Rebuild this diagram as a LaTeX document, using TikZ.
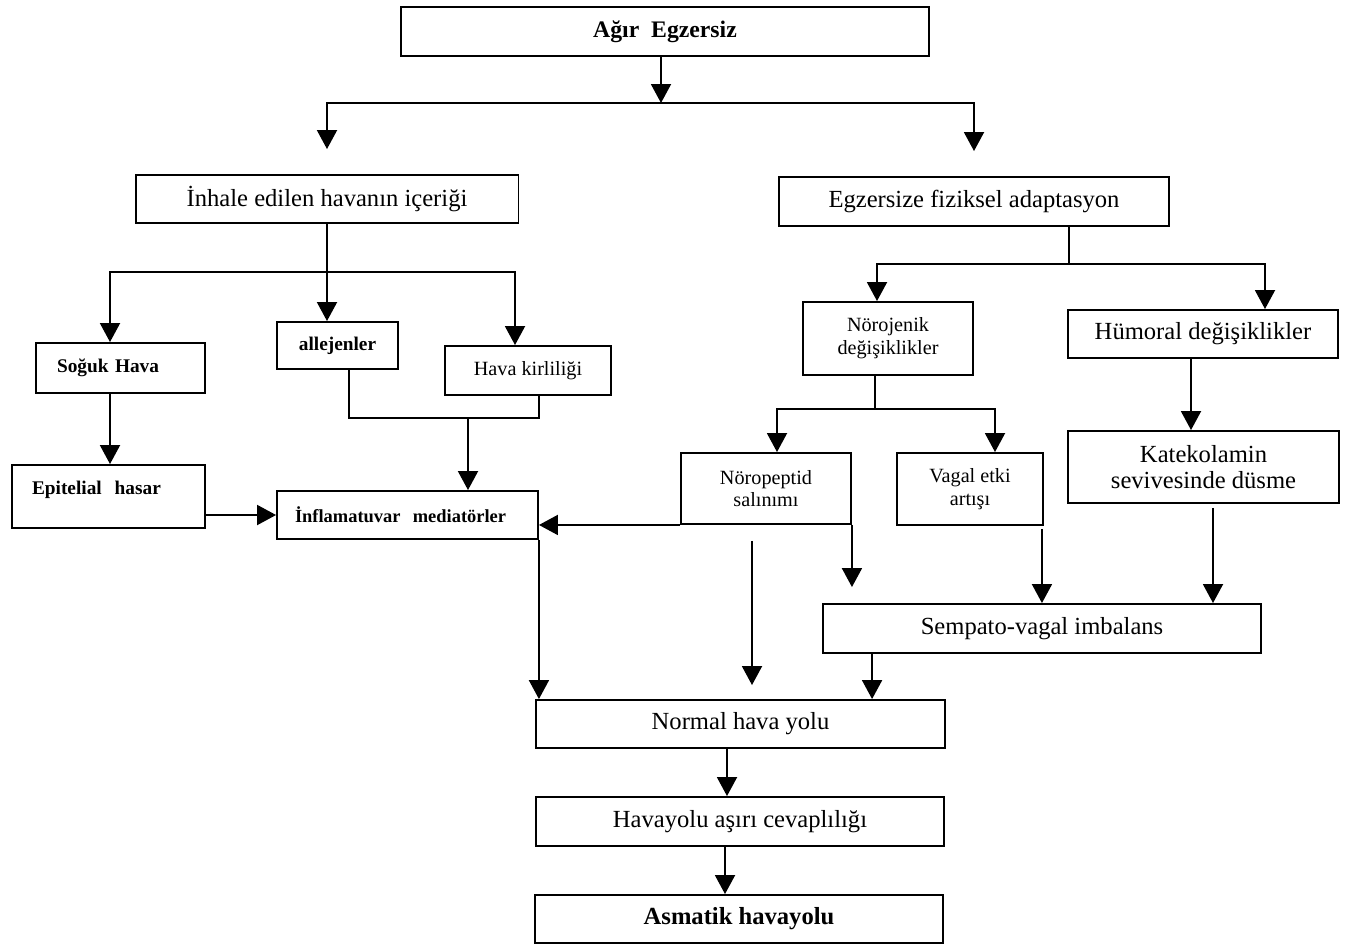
\documentclass[tikz,border=0pt]{standalone}
\usepackage{fontspec}
\setmainfont{Liberation Serif}
\usetikzlibrary{arrows.meta}

\begin{document}
\begin{tikzpicture}[
		x=0.02cm, y=-0.02cm, line width=1.1pt,
		arr/.style = {-{Triangle[length=0.38cm, width=0.4cm]}},
		blk/.style args = {#1/#2}{%
		draw, fill=white, inner sep=0pt, align=center,
		minimum width=#1, minimum height=#2},
		big/.style  = {font=\fontsize{14}{14.5}\selectfont},
		bigb/.style = {font=\bfseries\fontsize{14}{14.5}\selectfont},
		sml/.style  = {font=\fontsize{11.5}{13}\selectfont},
		smlb/.style = {font=\bfseries\fontsize{11}{13}\selectfont}
                    ]
		\useasboundingbox (0,0) rectangle (1348,944);

		\node(agir) [blk=10.56cm/0.98cm, font=\bfseries\fontsize{13.5}{15}\selectfont] at (665,31.5) {Ağır~~Egzersiz};
		\node(inhale) [blk=7.66cm/0.96cm, big] at (327,199) {İnhale edilen havanın içeriği};
		\node(egz) [blk=7.8cm/0.98cm, big] at (974,201.5) {Egzersize fiziksel adaptasyon};
		\node(soguk) [blk=3.38cm/1cm, smlb, align=left, text width=2.54cm, inner xsep=0.42cm] at (120.5,368) {Soğuk Hava};
		\node(allej) [blk=2.42cm/0.94cm, smlb] at (337.5,345.5) {allejenler};
		\node(kirli) [blk=3.32cm/0.98cm, sml] at (528,370.5) {Hava kirliliği};
		\node(epit) [blk=3.86cm/1.26cm, smlb, align=left, text width=3.06cm, inner xsep=0.4cm,
			text height=0.58cm, text depth=0.68cm] at (108.5,496.5) {Epitelial~~hasar};
		\node(inflam) [blk=5.22cm/0.96cm, smlb, font=\bfseries\fontsize{10.5}{13}\selectfont,
			align=left, text width=4.5cm, inner xsep=0.36cm] at (407.5,515) {\mbox{İnflamatuvar~~mediatörler}};
		\node(noroj) [blk=3.4cm/1.46cm, sml] at (888,338.5) {Nörojenik\\değişiklikler};
		\node(humor) [blk=5.4cm/0.96cm, big] at (1203,334) {Hümoral değişiklikler};
		\node(noropep) [blk=3.4cm/1.42cm, sml] at (766,488.5) {Nöropeptid\\salınımı};
		\node(vagal) [blk=2.92cm/1.44cm, sml] at (970,489) {Vagal etki\\artışı};
		\node(katek) [blk=5.42cm/1.44cm, big] at (1203.5,467) {Katekolamin\\sevivesinde düsme};
		\node(sempato) [blk=8.76cm/0.98cm, big] at (1042,628.5) {Sempato-vagal imbalans};
		\node(normal) [blk=8.18cm/0.96cm, big] at (740.5,724) {Normal hava yolu};
		\node(havayolu) [blk=8.16cm/0.98cm, big] at (740,821.5) {Havayolu aşırı cevaplılığı};
		\node(asmatik) [blk=8.16cm/0.96cm, bigb] at (739,919) {Asmatik havayolu};

		% junctions
		\coordinate (top) at (661,103);
		\coordinate (inh) at (327,272);
		\coordinate (ak) at (468,418);
		\coordinate (egs) at (1069,264);
		\coordinate (nrj) at (875,409);

		\draw[arr] (agir.south -| top) -- (top);
		\draw[arr, shorten >=0.5cm] (top) -| (inhale);
		\draw[arr, shorten >=0.5cm] (top) -| (egz);

		\draw[arr] (inhale.south) -- (inhale.south |- allej.north);
		\draw[arr] (inh) -| ([xshift=-0.21cm]soguk.north);
		\draw[arr] (inh) -| ([xshift=-0.26cm]kirli.north);
		\draw[arr] ([xshift=-0.21cm]soguk.south) -- ([xshift=-0.21cm]soguk.south |- epit.north);
		\draw ([xshift=0.23cm]allej.south) |- (ak) -| ([xshift=0.22cm]kirli.south);
		\draw[arr] (ak) -- (ak |- inflam.north);
		\draw[arr] (epit.east |- inflam) -- (inflam.west);
		\draw[arr] (inflam.south east) -- (inflam.south east |- normal.north);

		\draw (egz.south -| egs) -- (egs);
		\draw[arr] (egs) -| ([xshift=-0.22cm]noroj.north);
		\draw[arr] (egs) -| ([xshift=1.24cm]humor.north);
		\draw (noroj.south -| nrj) -- (nrj);
		\draw[arr] (nrj) -| ([xshift=0.22cm]noropep.north);
		\draw[arr] (nrj) -| ([xshift=0.5cm]vagal.north);

		\draw[arr] (noropep.south west) -- (noropep.south west -| inflam.east);
		\draw[arr, shorten >=0.32cm] (noropep.south east) -- (noropep.south east |- sempato.north);
		\draw[arr, shorten <=0.32cm, shorten >=0.28cm] ([xshift=-0.28cm]noropep.south) -- ([xshift=-0.28cm]noropep.south |- normal.north);
		\draw[arr, shorten <=0.06cm] ([xshift=-0.04cm]vagal.south east) -- ([xshift=-0.04cm]vagal.south east |- sempato.north);
		\draw[arr] ([xshift=-0.24cm]humor.south) -- ([xshift=-0.24cm]humor.south |- katek.north);
		\draw[arr, shorten <=0.08cm] ([xshift=0.19cm]katek.south) -- ([xshift=0.19cm]katek.south |- sempato.north);
		\draw[arr] ([xshift=1cm]sempato.south west) -- ([xshift=1cm]sempato.south west |- normal.north);

		\draw[arr] ([xshift=-0.27cm]normal.south) -- ([xshift=-0.27cm]normal.south |- havayolu.north);
		\draw[arr] ([xshift=-0.3cm]havayolu.south) -- ([xshift=-0.3cm]havayolu.south |- asmatik.north);
	\end{tikzpicture}
\end{document}
